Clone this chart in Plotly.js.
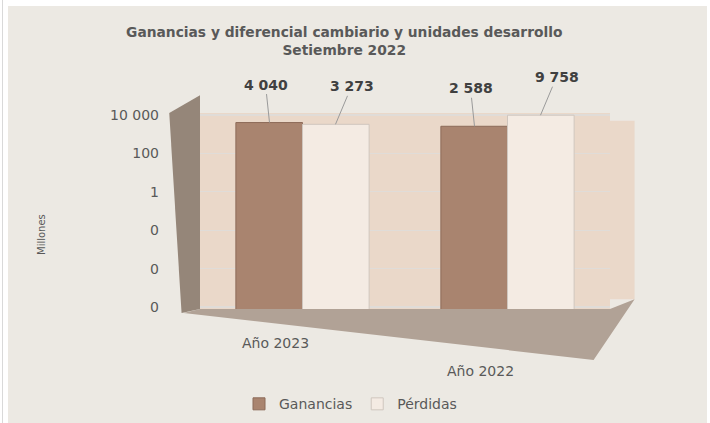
<!DOCTYPE html>
<html><head><meta charset="utf-8">
<script src="https://cdn.plot.ly/plotly-3.0.1.min.js"></script>
<style>
html,body{margin:0;padding:0;background:#fff;width:710px;height:423px;overflow:hidden}
#edge{position:absolute;left:2px;top:0;width:1px;height:423px;background:#d9d9d9}
#chart{position:absolute;left:8px;top:6px;width:699px;height:417px}
</style></head><body>
<div id="edge"></div>
<div id="chart"></div>
<script>
const categories = ['Año 2023', 'Año 2022'];
const seriesNames = ['Ganancias', 'Pérdidas'];
const ganancias = [4040, 2588];
const perdidas = [3273, 9758];
const tickVals = [1e-6, 1e-4, 1e-2, 1, 100, 10000];
const tickText = ['0', '0', '0', '1', '100', '10 000'];

const fontFam = '"DejaVu Sans", Verdana, sans-serif';
function fmt(v){ return String(Math.round(v)).replace(/\B(?=(\d{3})+(?!\d))/g, ' '); }

const traces = [
  {type:'bar', name:seriesNames[0], x:categories, y:ganancias,
   marker:{color:'#A9846F', line:{color:'#8C6B59', width:1}}, hoverinfo:'y'},
  {type:'bar', name:seriesNames[1], x:categories, y:perdidas,
   marker:{color:'#F4EBE3', line:{color:'#CFC6BE', width:1}}, hoverinfo:'y'}
];

const annotations = [];
const seriesVals = [ganancias, perdidas];
const shifts = [-33, 33];
const axs = [-4, 16];
seriesVals.forEach((vals, s) => {
  vals.forEach((v, i) => {
    annotations.push({x:categories[i], y:Math.log10(v), xref:'x', yref:'y',
      text:'<b>'+fmt(v)+'</b>', showarrow:true, arrowhead:0, arrowwidth:1,
      arrowcolor:'#9a9a9a', ax:axs[s], ay:-38, xshift:shifts[s],
      font:{family:fontFam, size:14, color:'#404040'}});
  });
});
// category labels placed along the perspective floor
const catShift = [-24, -52];
categories.forEach((c, i) => {
  annotations.push({x:c, xref:'x', y:0, yref:'paper', yanchor:'top', showarrow:false,
    text:c, xshift:-27, yshift:catShift[i],
    font:{family:fontFam, size:14, color:'#595959'}});
});
annotations.push({text:'Millones', xref:'paper', yref:'paper', x:-0.405, y:0.38,
  showarrow:false, textangle:-90, font:{family:fontFam, size:10, color:'#595959'}});

const shapes = [
  {type:'rect', xref:'paper', yref:'paper', layer:'below',
   x0:1, x1:1.06, y0:0.05, y1:0.96, fillcolor:'#EAD8C9', line:{width:0}},
  {type:'path', xref:'paper', yref:'paper', layer:'below',
   path:'M 0,0 L 1,0 L 1.06,0.05 L 0.96,-0.26 L -0.04,-0.02 Z',
   fillcolor:'#B1A296', line:{width:0}},
  {type:'path', xref:'paper', yref:'paper', layer:'below',
   path:'M -0.075,1.0 L 0,1.09 L 0,0 L -0.045,-0.02 Z',
   fillcolor:'#958679', line:{width:0}}
];

const layout = {
  width:699, height:417,
  margin:{l:192, r:97, t:107, b:114},
  paper_bgcolor:'#ECE9E3', plot_bgcolor:'#EAD8C9',
  title:{text:'<b>Ganancias y diferencial cambiario y unidades desarrollo<br>Setiembre 2022</b>',
    x:0.481, xanchor:'center', y:0.926, yanchor:'top',
    font:{family:fontFam, size:13.8, color:'#595959'}},
  barmode:'group', bargap:0.35, bargroupgap:0,
  xaxis:{type:'category', showgrid:false, zeroline:false, showline:false, ticks:'',
    showticklabels:false, automargin:false},
  yaxis:{type:'log', range:[-6.104, 4.104], tickvals:tickVals, ticktext:tickText,
    showgrid:true, gridcolor:'#E0DCD8', gridwidth:1.2, zeroline:false, showline:false, ticks:'',
    automargin:false,
    ticklabelstandoff:40, tickfont:{family:fontFam, size:14, color:'#595959'}},
  showlegend:true,
  legend:{orientation:'h', x:0.49, xanchor:'center', xref:'container', yref:'container',
    y:0.045, yanchor:'middle',
    font:{family:fontFam, size:14, color:'#595959'}, itemwidth:30, bgcolor:'rgba(0,0,0,0)'},
  annotations:annotations, shapes:shapes
};
Plotly.newPlot('chart', traces, layout, {displayModeBar:false, staticPlot:true});
</script></body></html>
